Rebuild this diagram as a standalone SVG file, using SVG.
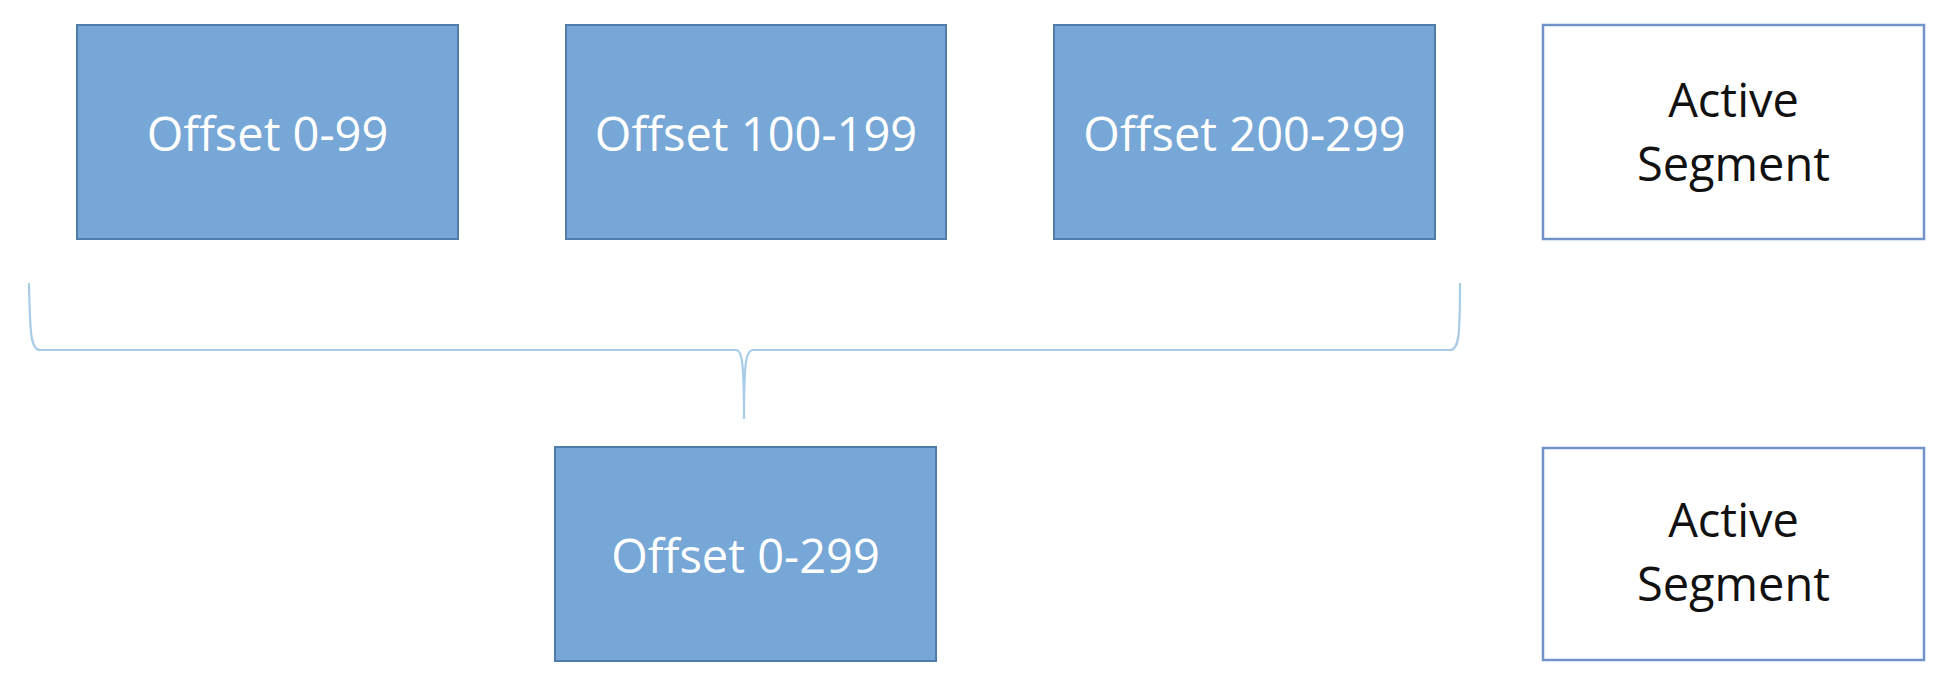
<svg xmlns="http://www.w3.org/2000/svg" width="1950" height="690" viewBox="0 0 1950 690">
<style>
.seg{fill:#76A7D6;stroke:#4F7CA8;stroke-width:2}
.act{fill:#FFFFFF;stroke:#7293C9;stroke-width:2.5}
.lt{font-family:"Open Sans","Liberation Sans",sans-serif;font-size:47px;fill:#FFFFFF;text-anchor:middle}
.dk{font-family:"Open Sans","Liberation Sans",sans-serif;font-size:47px;fill:#111111;text-anchor:middle}
.brace{fill:none;stroke:#A8CBE6;stroke-width:2.2}
</style>
<rect width="1950" height="690" fill="#FFFFFF"/>
<g id="seg0">
<rect class="seg" x="77" y="25" width="381" height="214"/>
<text class="lt" x="267.5" y="151">Offset 0-99</text>
</g>
<g id="seg100">
<rect class="seg" x="566" y="25" width="380" height="214"/>
<text class="lt" x="756" y="151">Offset 100-199</text>
</g>
<g id="seg200">
<rect class="seg" x="1054" y="25" width="381" height="214"/>
<text class="lt" x="1244.5" y="151">Offset 200-299</text>
</g>
<g id="active1">
<rect class="act" x="1543" y="25" width="381" height="214"/>
<text class="dk" x="1733.5" y="117">Active</text>
<text class="dk" x="1733.5" y="181">Segment</text>
</g>
<g id="merged">
<rect class="seg" x="555" y="447" width="381" height="214"/>
<text class="lt" x="745.5" y="573">Offset 0-299</text>
</g>
<g id="active2">
<rect class="act" x="1543" y="448" width="381" height="212"/>
<text class="dk" x="1733.5" y="537">Active</text>
<text class="dk" x="1733.5" y="601">Segment</text>
</g>
<g id="connectors">
<path class="brace" d="M29,283 C30,335 31,350 40,350 L736,350 C742,350 744,362 744,419 C744,362 746,350 753,350 L1450,350 C1459,350 1460,335 1460,283"/>
</g>
</svg>
